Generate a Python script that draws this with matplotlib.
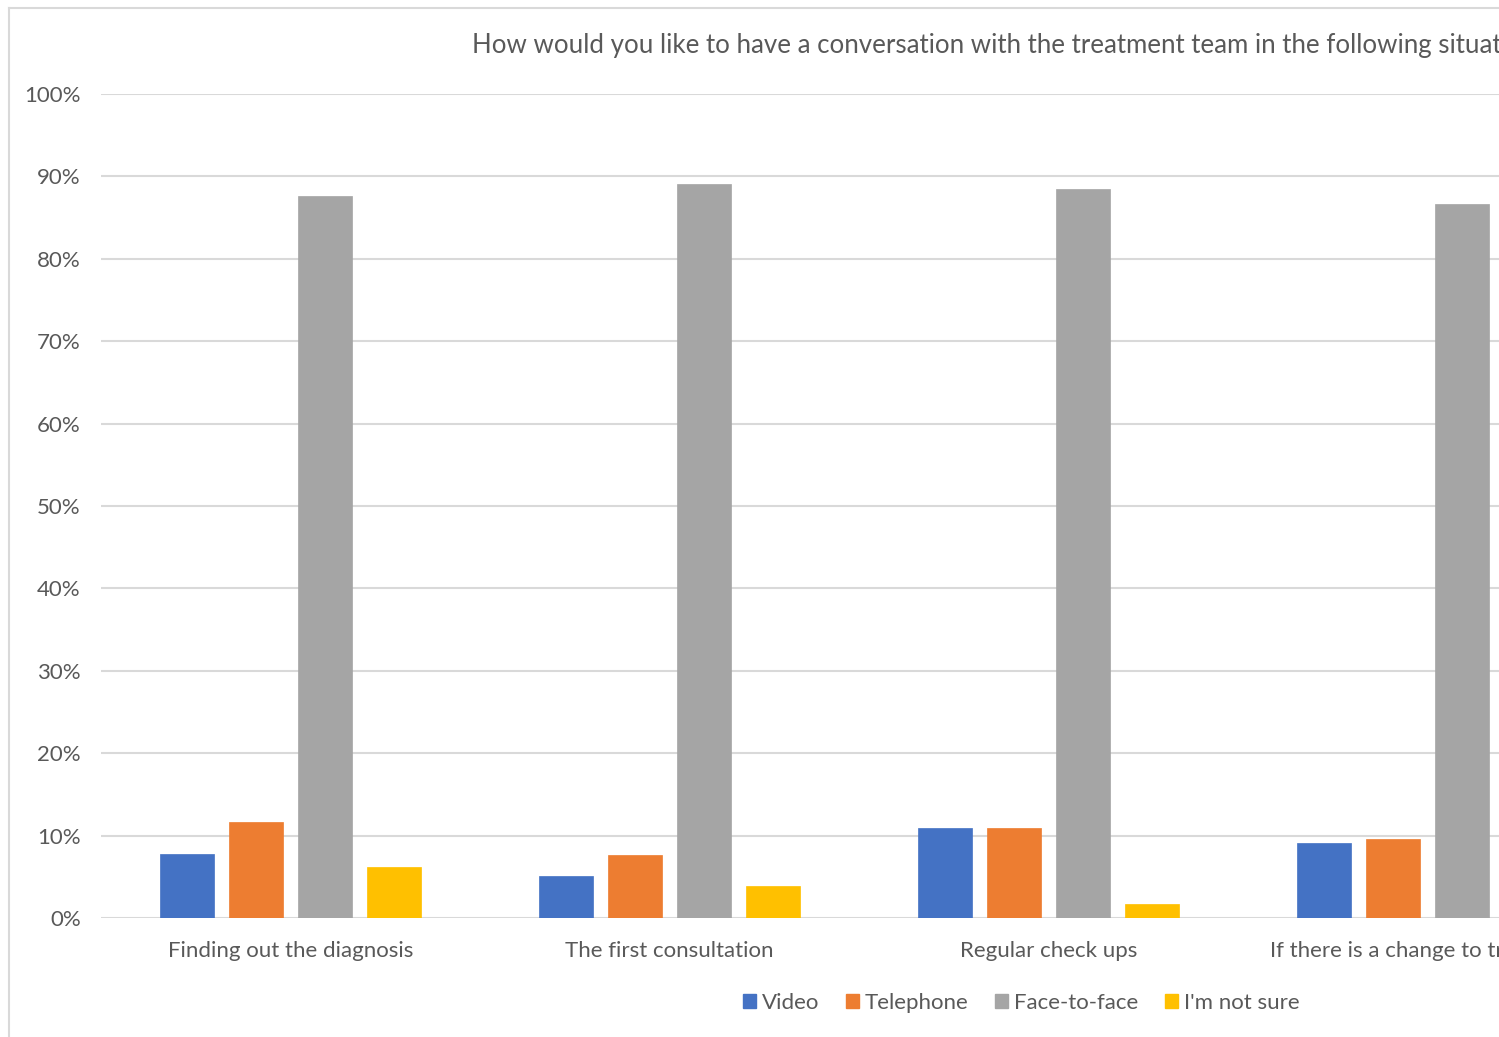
import numpy as np
import matplotlib
matplotlib.use("Agg")
import matplotlib.pyplot as plt
from matplotlib.patches import Patch
from matplotlib.lines import Line2D

plt.rcParams['font.family'] = ['Lato', 'DejaVu Sans']

categories = ["Finding out the diagnosis", "The first consultation",
              "Regular check ups", "If there is a change to treatment"]
series = ["Video", "Telephone", "Face-to-face", "I'm not sure"]
video = [7.8, 5.1, 10.9, 9.1]
telephone = [11.7, 7.6, 10.9, 9.6]
face_to_face = [87.6, 89.1, 88.5, 86.7]
not_sure = [6.2, 3.9, 1.7, np.nan]
colors = ["#4472C4", "#ED7D31", "#A5A5A5", "#FFC000"]
yticks = [0, 10, 20, 30, 40, 50, 60, 70, 80, 90, 100]

W, H = 1499, 1037
fig = plt.figure(figsize=(W / 100, H / 100), dpi=100)
fig.patch.set_facecolor("white")

# plot area (extends past the right edge of the canvas)
x0, x1 = 101, 101 + 4 * 379
y_top, y_bot = 94, 918
ax = fig.add_axes([x0 / W, (H - y_bot) / H, (x1 - x0) / W, (y_bot - y_top) / H])
ax.set_xlim(-0.5, 3.5)
ax.set_ylim(0, 100)

grid_c = "#D9D9D9"
text_c = "#595959"
for v in yticks:
    ax.axhline(v, color=grid_c, lw=1.5, zorder=0)

step = 68.7 / 379
width = 54 / 379
x = np.arange(len(categories))
all_vals = [video, telephone, face_to_face, not_sure]
for i, (vals, c, name) in enumerate(zip(all_vals, colors, series)):
    ax.bar(x + (i - 1.5) * step, vals, width=width, color=c, zorder=2,
           edgecolor=c, linewidth=0.5)

for s in ax.spines.values():
    s.set_visible(False)
ax.set_yticks(yticks)
ax.set_yticklabels([f"{v}%" for v in yticks], fontsize=16, color=text_c)
ax.set_xticks(x)
ax.set_xticklabels(categories, fontsize=16, color=text_c)
ax.tick_params(axis="y", length=0, pad=14.5)
ax.tick_params(axis="x", length=0, pad=16.5)

fig.text(472 / W, 1 - 45 / H,
         "How would you like to have a conversation with the treatment team in the following situations?",
         fontsize=18.6, color=text_c, ha="left", va="center")

handles = [Patch(facecolor=c, edgecolor=c) for c in colors]
fig.legend(handles, series, loc="center", bbox_to_anchor=(1021 / W, 1 - 1003 / H),
           ncol=4, frameon=False, fontsize=16, labelcolor=text_c,
           handlelength=0.6, handleheight=0.6, handletextpad=0.25,
           columnspacing=1.2)

# chart area frame
fig.add_artist(Line2D([8.5 / W, 8.5 / W], [0, 1 - 7.5 / H], color=grid_c, lw=1.5,
                      transform=fig.transFigure))
fig.add_artist(Line2D([8.5 / W, 1], [1 - 7.5 / H, 1 - 7.5 / H], color=grid_c, lw=1.5,
                      transform=fig.transFigure))

fig.savefig("out.png", dpi=100)
